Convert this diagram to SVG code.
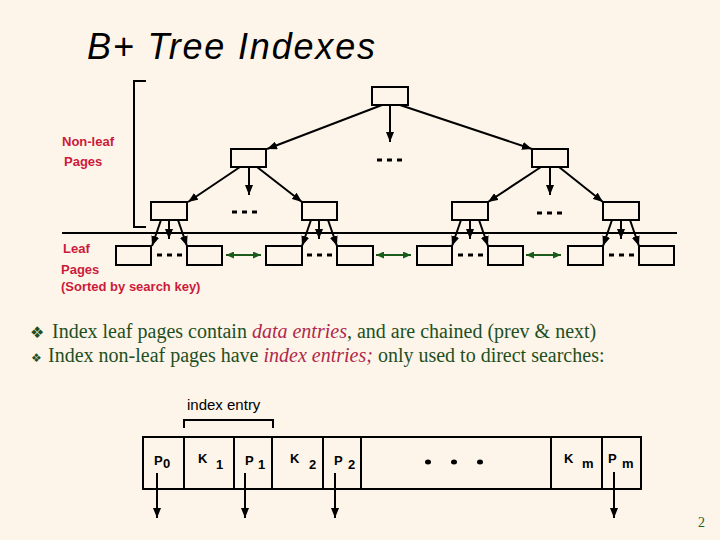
<svg xmlns="http://www.w3.org/2000/svg" width="720" height="540" viewBox="0 0 720 540">
<defs>
<marker id="ah" markerWidth="10" markerHeight="8" refX="10" refY="4" orient="auto" markerUnits="userSpaceOnUse"><path d="M0,0 L10,4 L0,8 z" fill="#000"/></marker>
<marker id="gh" markerWidth="8" markerHeight="7" refX="8" refY="3.5" orient="auto-start-reverse" markerUnits="userSpaceOnUse"><path d="M0,0 L8,3.5 L0,7 z" fill="#1a5a1a"/></marker>
<style>
.box{fill:none;stroke:#000;stroke-width:2}
.arr{stroke:#000;stroke-width:2;fill:none;marker-end:url(#ah)}
.garr{stroke:#1a5a1a;stroke-width:2;marker-start:url(#gh);marker-end:url(#gh)}
.dash{stroke:#000;stroke-width:3;stroke-dasharray:5 5}
.lbl{font-family:"Liberation Sans",Arial,sans-serif;font-size:13px;font-weight:bold;fill:#cc1a3a}
.bul{font-family:"Liberation Serif","Times New Roman",serif;font-size:20px;fill:#1f4f1f}
.em{font-style:italic;fill:#b0284a}
.ent{font-family:"Liberation Sans",Arial,sans-serif;font-size:13px;font-weight:bold;fill:#000}
</style>
</defs>
<rect width="720" height="540" fill="#fdf5ea"/>
<text x="87" y="59" font-family="Liberation Sans, Arial, sans-serif" font-size="36" font-style="italic" textLength="288" fill="#000">B+ Tree Indexes</text>

<g id="bracket"><path d="M146,81 H134 V227 H146" fill="none" stroke="#000" stroke-width="2"/></g>
<g id="divider"><line x1="62" y1="233" x2="677" y2="233" stroke="#000" stroke-width="2"/></g>

<g id="labels">
<text class="lbl" x="62" y="146">Non-leaf</text>
<text class="lbl" x="64" y="166">Pages</text>
<text class="lbl" x="63" y="253">Leaf</text>
<text class="lbl" x="61" y="274">Pages</text>
<text class="lbl" x="61" y="291">(Sorted by search key)</text>
</g>

<g id="root"><rect class="box" x="372" y="87" width="36" height="18"/></g>
<g id="n2a"><rect class="box" x="231" y="149" width="35" height="18"/></g>
<g id="n2b"><rect class="box" x="532" y="149" width="36" height="18"/></g>
<g id="n3a"><rect class="box" x="151" y="202" width="36" height="18"/></g>
<g id="n3b"><rect class="box" x="302" y="202" width="35" height="18"/></g>
<g id="n3c"><rect class="box" x="452" y="202" width="36" height="18"/></g>
<g id="n3d"><rect class="box" x="603" y="202" width="36" height="18"/></g>

<g id="leaves">
<rect class="box" x="116" y="246" width="35" height="19"/>
<rect class="box" x="187" y="246" width="35" height="19"/>
<rect class="box" x="266" y="246" width="36" height="19"/>
<rect class="box" x="337" y="246" width="36" height="19"/>
<rect class="box" x="417" y="246" width="35" height="19"/>
<rect class="box" x="488" y="246" width="35" height="19"/>
<rect class="box" x="568" y="246" width="35" height="19"/>
<rect class="box" x="639" y="246" width="35" height="19"/>
</g>

<g id="ellipses">
<line class="dash" x1="377" y1="160" x2="402" y2="160"/>
<line class="dash" x1="232" y1="212" x2="257" y2="212"/>
<line class="dash" x1="537" y1="213" x2="562" y2="213"/>
<line class="dash" x1="157" y1="255" x2="182" y2="255"/>
<line class="dash" x1="307" y1="255" x2="332" y2="255"/>
<line class="dash" x1="458" y1="255" x2="483" y2="255"/>
<line class="dash" x1="609" y1="255" x2="634" y2="255"/>
</g>

<g id="connectors">
<line class="arr" x1="382" y1="105" x2="267" y2="149"/>
<line class="arr" x1="390" y1="105" x2="390" y2="142"/>
<line class="arr" x1="400" y1="105" x2="532" y2="149"/>
<line class="arr" x1="240" y1="167" x2="188" y2="202"/>
<line class="arr" x1="249" y1="167" x2="249" y2="195"/>
<line class="arr" x1="257" y1="167" x2="302" y2="202"/>
<line class="arr" x1="541" y1="167" x2="488" y2="202"/>
<line class="arr" x1="550" y1="167" x2="550" y2="195"/>
<line class="arr" x1="559" y1="167" x2="603" y2="202"/>
<line class="arr" x1="161" y1="220" x2="152" y2="246"/>
<line class="arr" x1="169" y1="220" x2="169" y2="239"/>
<line class="arr" x1="178" y1="220" x2="187" y2="246"/>
<line class="arr" x1="311" y1="220" x2="302" y2="246"/>
<line class="arr" x1="319" y1="220" x2="319" y2="239"/>
<line class="arr" x1="328" y1="220" x2="337" y2="246"/>
<line class="arr" x1="461" y1="220" x2="452" y2="246"/>
<line class="arr" x1="470" y1="220" x2="470" y2="239"/>
<line class="arr" x1="479" y1="220" x2="488" y2="246"/>
<line class="arr" x1="612" y1="220" x2="603" y2="246"/>
<line class="arr" x1="621" y1="220" x2="621" y2="239"/>
<line class="arr" x1="630" y1="220" x2="639" y2="246"/>
<line class="garr" x1="226" y1="255" x2="261" y2="255"/>
<line class="garr" x1="376" y1="255" x2="411" y2="255"/>
<line class="garr" x1="526" y1="255" x2="561" y2="255"/>
</g>

<g id="bullets">
<text x="30" y="338" font-family="DejaVu Sans, sans-serif" font-size="16" fill="#1f4f1f">❖</text>
<text class="bul" x="52" y="338">Index leaf pages contain <tspan class="em">data entries</tspan>, and are chained (prev &amp; next)</text>
<text x="31" y="362" font-family="DejaVu Sans, sans-serif" font-size="12" fill="#1f4f1f">❖</text>
<text class="bul" x="48" y="362">Index non-leaf pages have <tspan class="em">index entries;</tspan> only used to direct searches:</text>
</g>

<g id="index-entry">
<text x="187" y="410" font-family="Liberation Sans, Arial, sans-serif" font-size="15" fill="#000">index entry</text>
<path d="M184,428 V420 H273 V428" fill="none" stroke="#000" stroke-width="2"/>
<rect class="box" x="143" y="437" width="498" height="52"/>
<g stroke="#000" stroke-width="2">
<line x1="184" y1="437" x2="184" y2="489"/>
<line x1="234" y1="437" x2="234" y2="489"/>
<line x1="272" y1="437" x2="272" y2="489"/>
<line x1="323" y1="437" x2="323" y2="489"/>
<line x1="361" y1="437" x2="361" y2="489"/>
<line x1="551" y1="437" x2="551" y2="489"/>
<line x1="602" y1="437" x2="602" y2="489"/>
</g>
<text class="ent" x="154" y="465">P</text><text class="ent" x="163" y="468">0</text>
<text class="ent" x="198" y="463">K</text><text class="ent" x="216" y="469">1</text>
<text class="ent" x="245" y="465">P</text><text class="ent" x="258" y="469">1</text>
<text class="ent" x="290" y="463">K</text><text class="ent" x="309" y="469">2</text>
<text class="ent" x="334" y="465">P</text><text class="ent" x="348" y="469">2</text>
<text class="ent" x="564" y="463">K</text><text class="ent" x="582" y="468">m</text>
<text class="ent" x="608" y="463">P</text><text class="ent" x="622" y="468">m</text>
<g fill="#000"><ellipse cx="428" cy="462" rx="3" ry="2.5"/><ellipse cx="454" cy="462" rx="3" ry="2.5"/><ellipse cx="480" cy="462" rx="3" ry="2.5"/></g>
<line class="arr" x1="157" y1="473" x2="157" y2="518"/>
<line class="arr" x1="245" y1="473" x2="245" y2="518"/>
<line class="arr" x1="335" y1="473" x2="335" y2="518"/>
<line class="arr" x1="614" y1="472" x2="614" y2="518"/>
</g>

<text x="698" y="527" font-family="Liberation Serif, Times New Roman, serif" font-size="14" fill="#1f5f1f">2</text>
</svg>
